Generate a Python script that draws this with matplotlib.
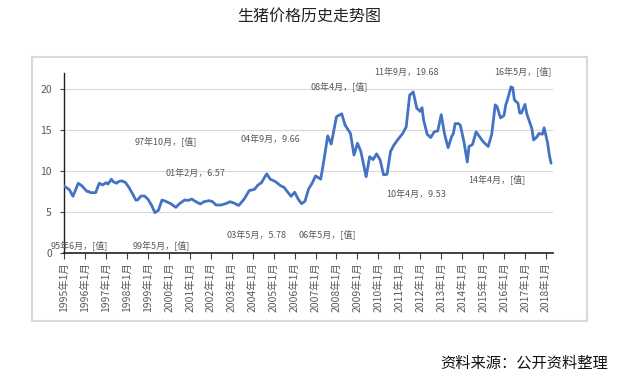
import matplotlib
matplotlib.use("Agg")
import matplotlib.pyplot as plt
from matplotlib.patches import Rectangle
import pandas as pd

plt.rcParams['font.family'] = ['Noto Sans CJK SC', 'DejaVu Sans']

title = "生猪价格历史走势图"
source = "资料来源：公开资料整理"

months = ["1995-01", "1995-04", "1995-06", "1995-09", "1995-11", "1996-02", "1996-03", "1996-04",
          "1996-07", "1996-09", "1996-11", "1997-01", "1997-02", "1997-04", "1997-05", "1997-07",
          "1997-08", "1997-10", "1997-12", "1998-02", "1998-04", "1998-06", "1998-07", "1998-09",
          "1998-11", "1999-01", "1999-03", "1999-05", "1999-07", "1999-09", "1999-11", "2000-02",
          "2000-05", "2000-07", "2000-10", "2000-12", "2001-02", "2001-04", "2001-07", "2001-09",
          "2001-12", "2002-02", "2002-04", "2002-07", "2002-10", "2002-12", "2003-02", "2003-05",
          "2003-08", "2003-11", "2004-02", "2004-04", "2004-06", "2004-09", "2004-11", "2005-02",
          "2005-05", "2005-07", "2005-08", "2005-11", "2006-01", "2006-03", "2006-05", "2006-07",
          "2006-09", "2006-11", "2007-01", "2007-04", "2007-06", "2007-08", "2007-10", "2008-01",
          "2008-04", "2008-06", "2008-09", "2008-11", "2009-01", "2009-03", "2009-06", "2009-08",
          "2009-10", "2009-12", "2010-02", "2010-04", "2010-06", "2010-08", "2010-10", "2010-12",
          "2011-03", "2011-05", "2011-07", "2011-09", "2011-11", "2012-01", "2012-02", "2012-03",
          "2012-05", "2012-07", "2012-09", "2012-11", "2013-01", "2013-03", "2013-05", "2013-07",
          "2013-08", "2013-09", "2013-11", "2013-12", "2014-02", "2014-04", "2014-05", "2014-07",
          "2014-09", "2014-11", "2015-01", "2015-03", "2015-04", "2015-06", "2015-08", "2015-09",
          "2015-11", "2016-01", "2016-02", "2016-03", "2016-05", "2016-06", "2016-07", "2016-09",
          "2016-10", "2016-11", "2017-01", "2017-02", "2017-03", "2017-05", "2017-06", "2017-08",
          "2017-09", "2017-11", "2017-12", "2018-02", "2018-03", "2018-04"]
prices = [8.15, 7.7, 6.9, 8.5, 8.2, 7.5, 7.5, 7.35,
          7.35, 8.5, 8.3, 8.57, 8.4, 9.0, 8.7, 8.5,
          8.7, 8.8, 8.6, 8.0, 7.27, 6.45, 6.45, 6.94,
          6.94, 6.53, 5.84, 4.9, 5.2, 6.45, 6.3, 6.0,
          5.55, 6.0, 6.45, 6.4, 6.57, 6.3, 5.96, 6.24,
          6.37, 6.24, 5.84, 5.84, 6.04, 6.24, 6.1, 5.78,
          6.53, 7.6, 7.76, 8.28, 8.57, 9.66, 9.0, 8.7,
          8.2, 8.0, 7.7, 6.9, 7.4, 6.6, 6.0, 6.3,
          7.8, 8.5, 9.4, 9.0, 11.55, 14.3, 13.3, 16.65,
          17.0, 15.6, 14.6, 11.95, 13.4, 12.4, 9.3, 11.75,
          11.4, 12.1, 11.35, 9.53, 9.6, 12.4, 13.2, 13.8,
          14.6, 15.4, 19.3, 19.68, 17.7, 17.3, 17.75, 16.2,
          14.5, 14.1, 14.8, 14.9, 16.9, 14.5, 12.85, 14.2,
          14.6, 15.8, 15.8, 15.6, 13.6, 11.1, 13.0, 13.25,
          14.8, 14.2, 13.6, 13.2, 13.0, 14.5, 18.1, 17.9,
          16.5, 16.8, 18.1, 18.7, 20.3, 20.2, 18.7, 18.3,
          17.1, 17.1, 18.15, 17.05, 16.45, 15.2, 13.8, 14.2,
          14.6, 14.5, 15.3, 13.4, 12.0, 10.95]

label_months = ["1995-06", "1997-10", "1999-05", "2001-02", "2003-05", "2004-09",
                "2006-05", "2008-04", "2010-04", "2011-09", "2014-04", "2016-05"]
label_texts = ["95年6月，[值]", "97年10月，[值]", "99年5月，[值]", "01年2月，6.57",
               "03年5月，5.78", "04年9月，9.66", "06年5月，[值]", "08年4月，[值]",
               "10年4月，9.53", "11年9月，19.68", "14年4月，[值]", "16年5月，[值]"]
label_offsets = [(6, -49), (44, 40), (6, -32), (4, 26), (18, -30), (4, 34),
                 (26, -30), (-3, 28), (33, -20), (-7, 19), (30, -17), (12, 16)]

years = list(range(1995, 2019))
tick_labels = [f"{y}年1月" for y in years]

dates = pd.to_datetime(months)

fig = plt.figure(figsize=(6.25, 3.81), dpi=100)
fig.patch.set_facecolor("white")

# outer chart frame
fig.patches.append(Rectangle((32 / 625, 1 - 321 / 381), (587 - 32) / 625, (321 - 57) / 381,
                             transform=fig.transFigure, fill=False,
                             edgecolor="#d9d9d9", linewidth=1.5, zorder=0))

ax = fig.add_axes([64.3 / 625, 1 - 252.7 / 381, (553 - 64.3) / 625, (252.7 - 73) / 381])
ax.plot(dates, prices, color="#4472C4", linewidth=2.0, solid_joinstyle="round",
        solid_capstyle="round", zorder=3)

ax.set_ylim(0, 22)
ax.set_yticks([0, 5, 10, 15, 20])
ax.set_xlim(pd.Timestamp("1995-01-01"), pd.Timestamp("2018-05-05"))
ticks = pd.to_datetime([f"{y}-01-01" for y in years])
ax.set_xticks(ticks)
ax.set_xticklabels(tick_labels, rotation=90, fontsize=7.5, color="#595959")
ax.tick_params(axis="y", labelsize=7.5, labelcolor="#595959", length=3, width=0.8, color="#404040", pad=6)
ax.tick_params(axis="x", length=4, width=0.8, color="#404040", pad=3)
for y in [5, 10, 15, 20]:
    ax.axhline(y, color="#d9d9d9", linewidth=0.8, zorder=1)
for s in ["top", "right"]:
    ax.spines[s].set_visible(False)
ax.spines["left"].set_color("#202020")
ax.spines["bottom"].set_color("#202020")
ax.spines["left"].set_linewidth(1.0)
ax.spines["bottom"].set_linewidth(1.2)
ax.spines["bottom"].set_zorder(4)

lookup = dict(zip(months, prices))
for m, t, off in zip(label_months, label_texts, label_offsets):
    ax.annotate(t, xy=(pd.Timestamp(m + "-01"), lookup[m]), xytext=off,
                textcoords="offset pixels", ha="center", va="center",
                fontsize=6.5, color="#595959", zorder=5, annotation_clip=False)

fig.text(309 / 625, 1 - 16 / 381, title, ha="center", va="center", fontsize=11.5, color="#222222")
fig.text(608 / 625, 1 - 363 / 381, source, ha="right", va="center", fontsize=11, color="#111111")

fig.savefig("out.png", dpi=100, facecolor="white")
